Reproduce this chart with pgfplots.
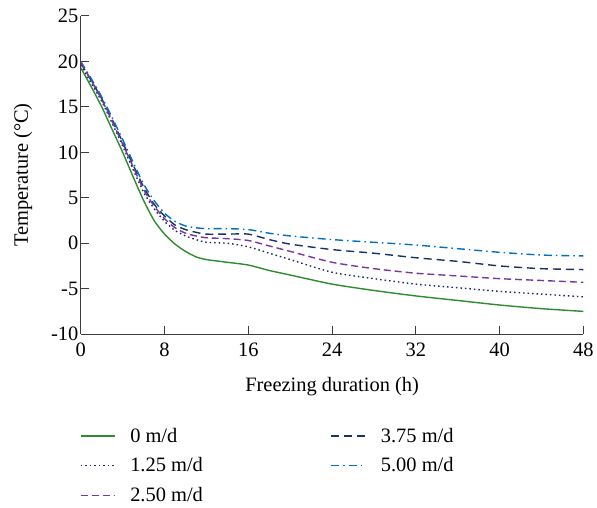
\documentclass[border=0pt]{standalone}
\usepackage{fontspec}
\setmainfont{Liberation Serif}
\usepackage{pgfplots}
\pgfplotsset{compat=1.18}

\definecolor{cgreen}{RGB}{46,139,46}
\definecolor{cdot}{RGB}{30,40,95}
\definecolor{cpurple}{RGB}{120,55,160}
\definecolor{cnavy}{RGB}{25,50,100}
\definecolor{cblue}{RGB}{0,112,192}
\definecolor{caxis}{RGB}{60,60,60}

\begin{document}
\begin{tikzpicture}
\begin{axis}[
    scale only axis,
    width=504pt, height=319pt,
    xmin=0, xmax=48, ymin=-10, ymax=25,
    xtick={0,8,...,48},
    ytick={-10,-5,...,25},
    axis x line=bottom, axis y line=left,
    axis line style={-, caxis, line width=1pt},
    tick style={caxis, line width=1pt},
    tick align=inside,
    major tick length=8pt,
    font=\fontsize{20.5}{23}\selectfont,
    /pgf/number format/assume math mode=true,
    xticklabel style={yshift=-5pt},
    yticklabel style={xshift=1pt},
    xlabel={Freezing duration (h)},
    ylabel={Temperature (°C)},
    xlabel style={yshift=-14pt},
    ylabel style={yshift=12pt},
    legend style={draw=none, fill=none, at={(rel axis cs:0,0)}, yshift=-90pt,
        anchor=north west, legend columns=2, row sep=10pt, xshift=-4pt,
        /tikz/every even column/.append style={column sep=126pt},
        font=\fontsize{20.5}{23}\selectfont},
    legend cell align=left,
    legend image code/.code={
        \draw[sharp plot, line width=1.4pt] (0pt,0pt) -- (34pt,0pt);},
    every axis plot/.append style={line width=1.4pt, smooth, tension=0.4},
]
\addplot[cgreen, solid] coordinates {
(0,19.3) (1,17.2) (2,15.0) (3,12.5) (4,10.0) (5,7.3) (6,4.7) (7,2.5) (8,1.0)
(9,-0.1) (10,-0.9) (11,-1.5) (12,-1.8) (14,-2.1) (16,-2.4) (18,-3.0) (20,-3.5)
(24,-4.5) (28,-5.2) (32,-5.8) (36,-6.3) (40,-6.8) (44,-7.2) (48,-7.5)
};
\addlegendentry{\hspace{13pt}0 m/d}
\addplot[cnavy, dash pattern=on 8pt off 5pt] coordinates {
(0,19.8) (1,17.9) (2,15.9) (3,13.6) (4,11.1) (5,8.6) (6,6.2) (7,4.3) (8,3.0)
(9,2.0) (10,1.5) (11,1.2) (12,1.0) (14,1.0) (16,1.0) (18,0.4) (20,-0.1)
(24,-0.7) (28,-1.1) (32,-1.6) (36,-2.0) (40,-2.5) (44,-2.8) (48,-2.9)
};
\addlegendentry{\hspace{13pt}3.75 m/d}
\addplot[cdot, dash pattern=on 1.5pt off 3pt] coordinates {
(0,19.6) (1,17.6) (2,15.6) (3,13.2) (4,10.7) (5,8.1) (6,5.6) (7,3.8) (8,2.4)
(9,1.4) (10,0.8) (11,0.4) (12,0.1) (14,0.0) (16,-0.4) (18,-1.1) (20,-1.8)
(24,-3.2) (28,-3.9) (32,-4.5) (36,-4.9) (40,-5.3) (44,-5.6) (48,-5.9)
};
\addlegendentry{\hspace{13pt}1.25 m/d}
\addplot[cblue, dash pattern=on 8pt off 4pt on 1.5pt off 4pt] coordinates {
(0,20.0) (1,18.1) (2,16.1) (3,13.8) (4,11.4) (5,8.9) (6,6.5) (7,4.7) (8,3.3)
(9,2.4) (10,1.9) (11,1.7) (12,1.6) (14,1.6) (16,1.5) (18,1.1) (20,0.8)
(24,0.4) (28,0.1) (32,-0.2) (36,-0.6) (40,-1.0) (44,-1.3) (48,-1.4)
};
\addlegendentry{\hspace{13pt}5.00 m/d}
\addplot[cpurple, dash pattern=on 7pt off 4pt] coordinates {
(0,19.9) (1,17.9) (2,15.8) (3,13.4) (4,10.9) (5,8.4) (6,5.9) (7,4.1) (8,2.7)
(9,1.7) (10,1.1) (11,0.8) (12,0.6) (14,0.5) (16,0.3) (18,-0.3) (20,-0.9)
(24,-2.1) (28,-2.8) (32,-3.3) (36,-3.6) (40,-3.9) (44,-4.1) (48,-4.3)
};
\addlegendentry{\hspace{13pt}2.50 m/d}
\end{axis}
\path (current axis.south west) ++(-81pt,-174pt) rectangle ++(597pt,509pt);
\end{tikzpicture}
\end{document}
